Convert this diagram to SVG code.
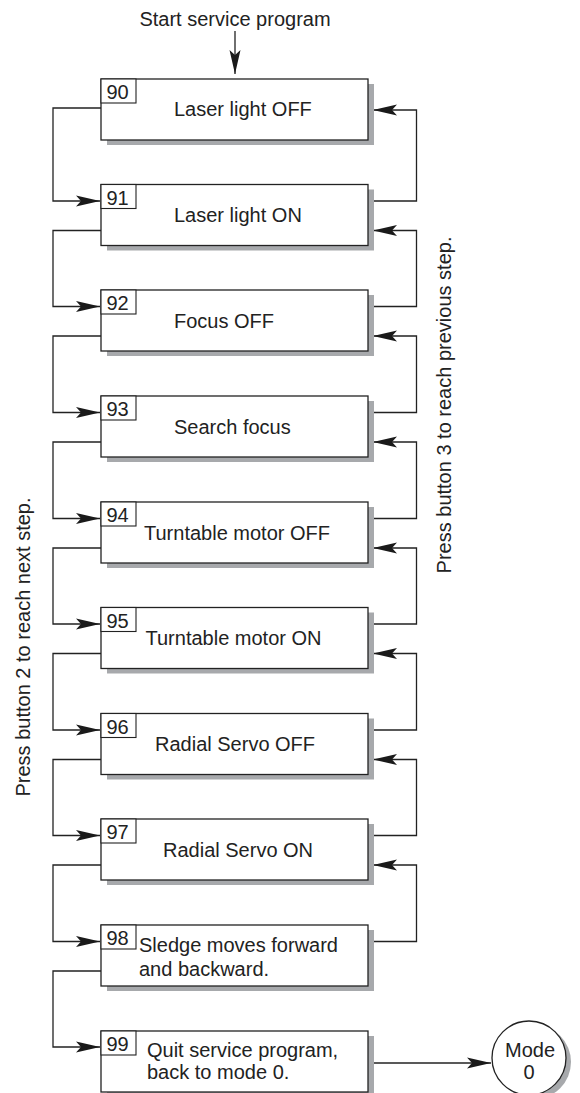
<svg xmlns="http://www.w3.org/2000/svg" width="580" height="1093" viewBox="0 0 580 1093">
<style>
text{font-family:"Liberation Sans",Arial,sans-serif;font-size:20px;fill:#222}
.sh{fill:#a7a9ac;stroke:none}
.bx{fill:#fff;stroke:#222;stroke-width:1.3}
.nb{fill:#fff;stroke:#222;stroke-width:1.1}
.cn{fill:none;stroke:#222;stroke-width:1.3}
</style>
<defs>
<marker id="ah" markerUnits="userSpaceOnUse" markerWidth="26" markerHeight="14" refX="24" refY="7" orient="auto">
<path d="M0,1.5 L24,7 L0,12.5 L5,7 Z" fill="#1a1a1a"/>
</marker>
</defs>
<text x="235" y="26" text-anchor="middle">Start service program</text>
<g id="connectors">
<path class="cn" d="M235,31 V74" marker-end="url(#ah)"/>
<path class="cn" d="M101,108 H53 V201 H100" marker-end="url(#ah)"/>
<path class="cn" d="M101,230.5 H53 V306.5 H100" marker-end="url(#ah)"/>
<path class="cn" d="M101,336 H53 V412.5 H100" marker-end="url(#ah)"/>
<path class="cn" d="M101,442 H53 V518.5 H100" marker-end="url(#ah)"/>
<path class="cn" d="M101,548 H53 V624 H100" marker-end="url(#ah)"/>
<path class="cn" d="M101,653.5 H53 V730 H100" marker-end="url(#ah)"/>
<path class="cn" d="M101,759.5 H53 V835.5 H100" marker-end="url(#ah)"/>
<path class="cn" d="M101,865 H53 V941.5 H100" marker-end="url(#ah)"/>
<path class="cn" d="M101,971 H53 V1047 H100" marker-end="url(#ah)"/>
<path class="cn" d="M368,201 H416.5 V110 H373" marker-end="url(#ah)"/>
<path class="cn" d="M368,306.5 H416.5 V230.5 H373" marker-end="url(#ah)"/>
<path class="cn" d="M368,412.5 H416.5 V336 H373" marker-end="url(#ah)"/>
<path class="cn" d="M368,518.5 H416.5 V442 H373" marker-end="url(#ah)"/>
<path class="cn" d="M368,624 H416.5 V548 H373" marker-end="url(#ah)"/>
<path class="cn" d="M368,730 H416.5 V653.5 H373" marker-end="url(#ah)"/>
<path class="cn" d="M368,835.5 H416.5 V759.5 H373" marker-end="url(#ah)"/>
<path class="cn" d="M368,941.5 H416.5 V865 H373" marker-end="url(#ah)"/>
<path class="cn" d="M374,1063 H491" marker-end="url(#ah)"/>
</g>
<g id="n90">
<rect class="sh" x="107" y="84" width="267" height="61"/>
<rect class="bx" x="101" y="79" width="267" height="61"/>
<rect class="nb" x="101" y="79" width="35" height="24"/>
<text x="106.5" y="99">90</text>
<text x="174" y="116">Laser light OFF</text>
</g>
<g id="n91">
<rect class="sh" x="107" y="189.5" width="267" height="61"/>
<rect class="bx" x="101" y="184.5" width="267" height="61"/>
<rect class="nb" x="101" y="184.5" width="35" height="24"/>
<text x="106.5" y="204.5">91</text>
<text x="174" y="222">Laser light ON</text>
</g>
<g id="n92">
<rect class="sh" x="107" y="295" width="267" height="61"/>
<rect class="bx" x="101" y="290" width="267" height="61"/>
<rect class="nb" x="101" y="290" width="35" height="24"/>
<text x="106.5" y="310">92</text>
<text x="174" y="328">Focus OFF</text>
</g>
<g id="n93">
<rect class="sh" x="107" y="401" width="267" height="61"/>
<rect class="bx" x="101" y="396" width="267" height="61"/>
<rect class="nb" x="101" y="396" width="35" height="24"/>
<text x="106.5" y="416">93</text>
<text x="174" y="433.5">Search focus</text>
</g>
<g id="n94">
<rect class="sh" x="107" y="507" width="267" height="61"/>
<rect class="bx" x="101" y="502" width="267" height="61"/>
<rect class="nb" x="101" y="502" width="35" height="24"/>
<text x="106.5" y="522">94</text>
<text x="144" y="540">Turntable motor OFF</text>
</g>
<g id="n95">
<rect class="sh" x="107" y="612.5" width="267" height="61"/>
<rect class="bx" x="101" y="607.5" width="267" height="61"/>
<rect class="nb" x="101" y="607.5" width="35" height="24"/>
<text x="106.5" y="627.5">95</text>
<text x="145.5" y="645">Turntable motor ON</text>
</g>
<g id="n96">
<rect class="sh" x="107" y="718.5" width="267" height="61"/>
<rect class="bx" x="101" y="713.5" width="267" height="61"/>
<rect class="nb" x="101" y="713.5" width="35" height="24"/>
<text x="106.5" y="733.5">96</text>
<text x="155" y="751">Radial Servo OFF</text>
</g>
<g id="n97">
<rect class="sh" x="107" y="824" width="267" height="61"/>
<rect class="bx" x="101" y="819" width="267" height="61"/>
<rect class="nb" x="101" y="819" width="35" height="24"/>
<text x="106.5" y="839">97</text>
<text x="163" y="857">Radial Servo ON</text>
</g>
<g id="n98">
<rect class="sh" x="107" y="930" width="267" height="61"/>
<rect class="bx" x="101" y="925" width="267" height="61"/>
<rect class="nb" x="101" y="925" width="35" height="24"/>
<text x="106.5" y="945">98</text>
<text x="139" y="952">Sledge moves forward</text>
<text x="139" y="975.5">and backward.</text>
</g>
<g id="n99">
<rect class="sh" x="107" y="1036" width="267" height="61"/>
<rect class="bx" x="101" y="1031" width="267" height="61"/>
<rect class="nb" x="101" y="1031" width="35" height="24"/>
<text x="106.5" y="1051">99</text>
<text x="147" y="1056.5">Quit service program,</text>
<text x="147" y="1078.5">back to mode 0.</text>
</g>
<g id="mode0">
<circle class="sh" cx="534" cy="1062" r="37"/>
<circle class="bx" cx="529" cy="1058" r="37"/>
<text x="530" y="1057" text-anchor="middle">Mode</text>
<text x="529" y="1079" text-anchor="middle">0</text>
</g>
<text transform="translate(30,647) rotate(-90)" text-anchor="middle">Press button 2 to reach next step.</text>
<text transform="translate(451,405) rotate(-90)" text-anchor="middle">Press button 3 to reach previous step.</text>
</svg>
